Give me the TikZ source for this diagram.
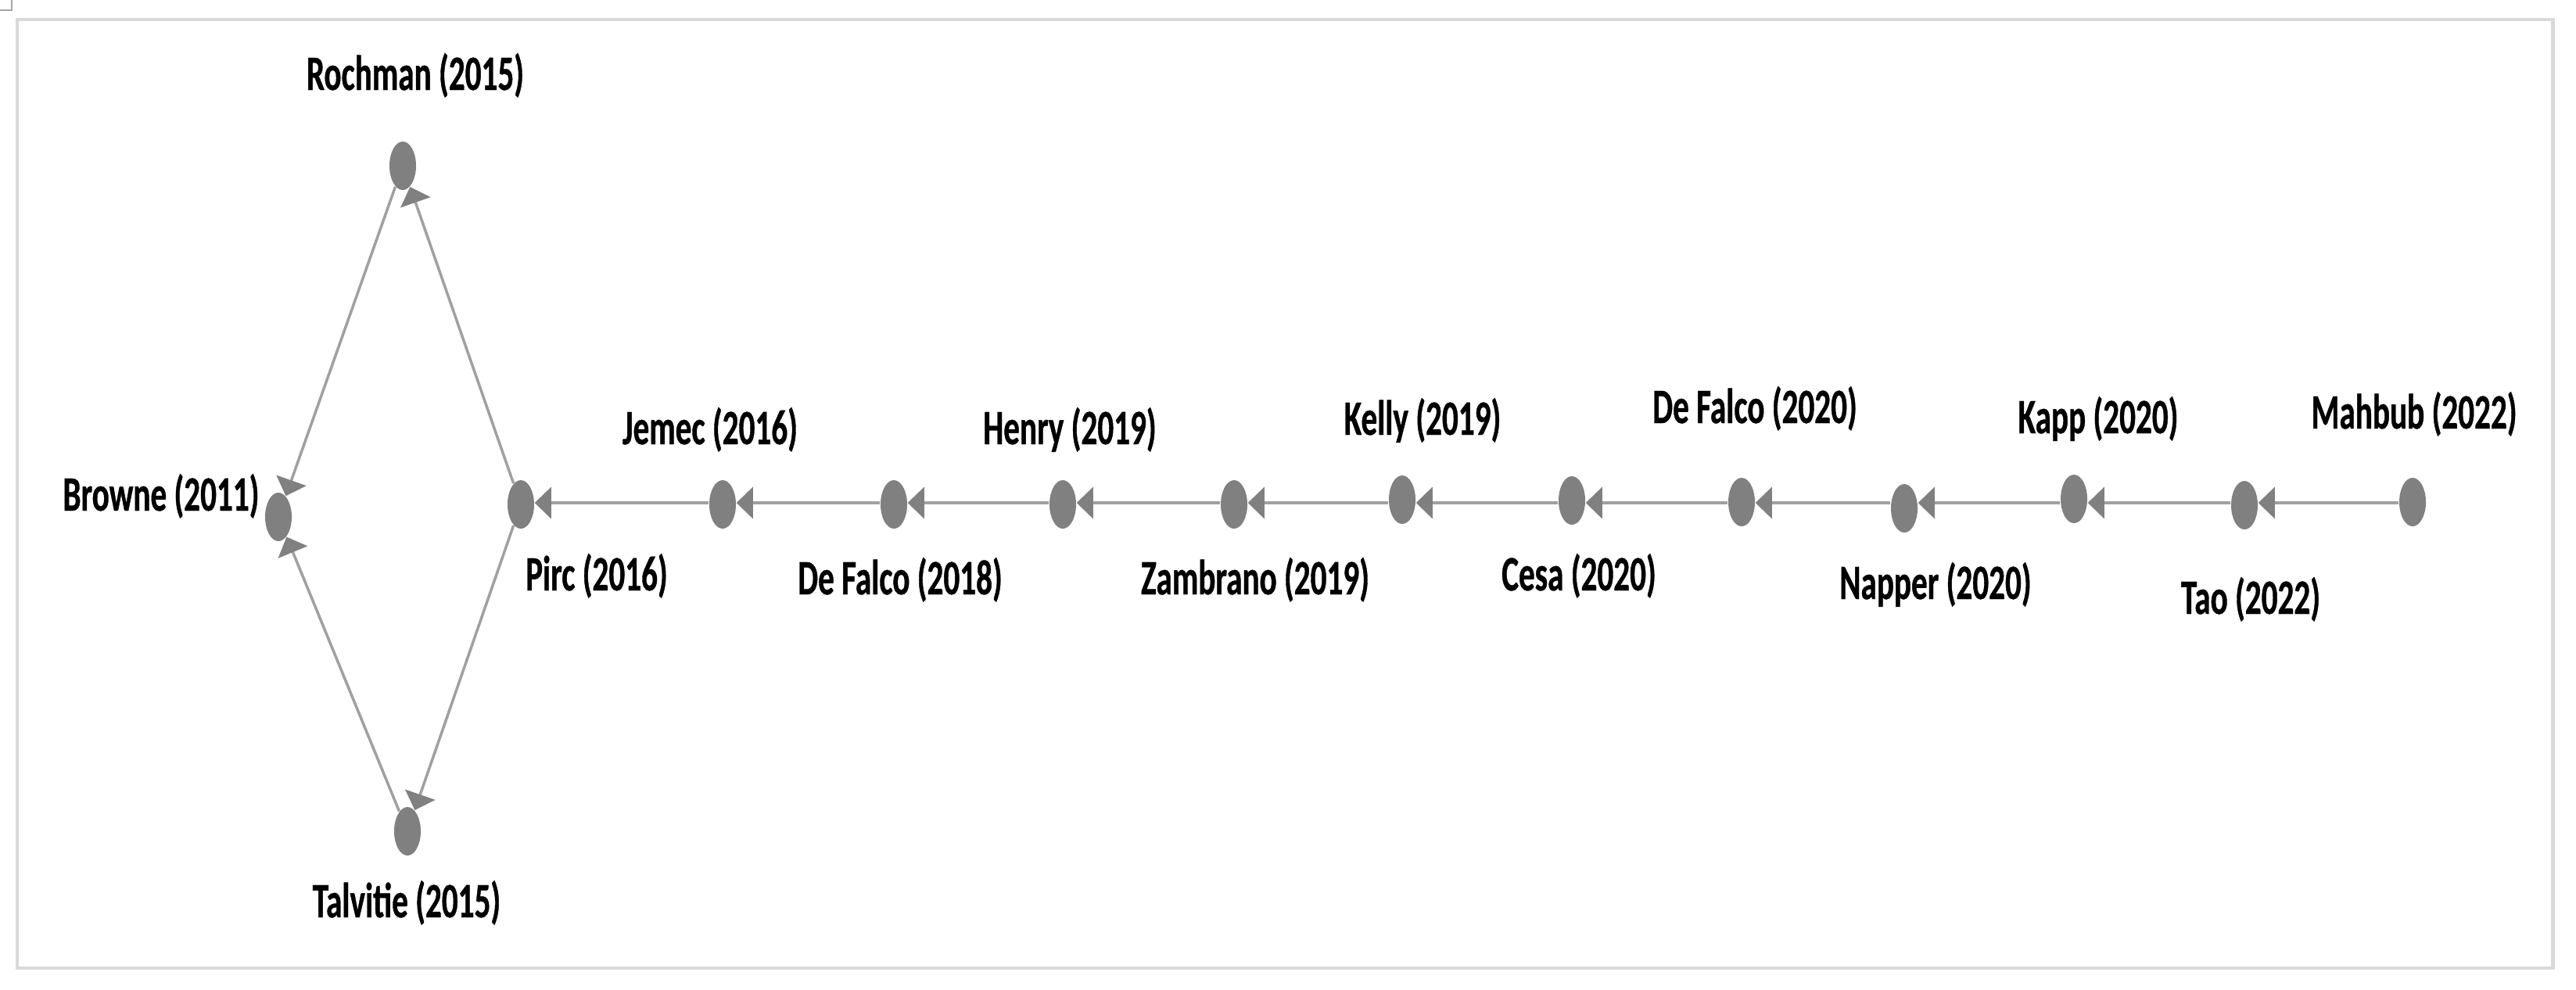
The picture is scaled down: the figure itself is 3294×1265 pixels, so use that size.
\documentclass[tikz,border=0pt]{standalone}
\usepackage{fontspec}
\newfontfamily\labfont[FakeStretch=0.65,FakeBold=0.6]{Carlito}
\usetikzlibrary{arrows.meta,shapes.geometric}
\definecolor{nodegray}{RGB}{128,128,128}
\definecolor{edgegray}{RGB}{160,160,160}
\definecolor{framegray}{RGB}{217,217,217}
\begin{document}
\begin{tikzpicture}[x=0.01cm,y=-0.01cm,
  pub/.style={ellipse, fill=nodegray, draw=none, inner sep=0pt,
    minimum width=0.34cm, minimum height=0.62cm},
  lab/.style={font=\labfont\bfseries\fontsize{18}{20}\selectfont,
    inner sep=0pt, anchor=base, text=black},
  cite/.style={draw=edgegray, line width=1pt,
    -{Triangle[length=6pt,width=11.4pt,color=nodegray]}}]
\useasboundingbox (0,0) rectangle (3294,1265);
% frame
\draw[framegray, line width=1.4pt] (22,25) rectangle (3264,1238);
\draw[gray!70, line width=0.5pt] (0,13) -- (15,13) -- (15,0);
% publication nodes
\node[pub] (rochman)  at (515,212)  {};
\node[pub] (browne)   at (356,661)  {};
\node[pub] (talvitie) at (521,1063) {};
\node[pub] (pirc)     at (666,645)  {};
\node[pub] (jemec)    at (924,645)  {};
\node[pub] (dfa)      at (1143,645) {};
\node[pub] (henry)    at (1359,645) {};
\node[pub] (zambrano) at (1578,645) {};
\node[pub] (kelly)    at (1793,639) {};
\node[pub] (cesa)     at (2010,640) {};
\node[pub] (dfb)      at (2227,642) {};
\node[pub] (napper)   at (2435,650) {};
\node[pub] (kapp)     at (2652,638) {};
\node[pub] (tao)      at (2870,646) {};
\node[pub] (mahbub)   at (3085,642) {};
\coordinate (axis) at (0,643);
% labels
\node[lab] (Lrochman)  at (531,115)  {Rochman (2015)};
\node[lab] (Lbrowne)   at (206,653)  {Browne (2011)};
\node[lab] (Ltalvitie) at (520,1173) {Talvitie (2015)};
\node[lab] (Lpirc)     at (763,755)  {Pirc (2016)};
\node[lab] (Ljemec)    at (908,568)  {Jemec (2016)};
\node[lab] (Ldfa)      at (1151,760) {De Falco (2018)};
\node[lab] (Lhenry)    at (1368,568) {Henry (2019)};
\node[lab] (Lzambrano) at (1605,760) {Zambrano (2019)};
\node[lab] (Lkelly)    at (1819,556) {Kelly (2019)};
\node[lab] (Lcesa)     at (2019,755) {Cesa (2020)};
\node[lab] (Ldfb)      at (2244,541) {De Falco (2020)};
\node[lab] (Lnapper)   at (2475,766) {Napper (2020)};
\node[lab] (Lkapp)     at (2683,554) {Kapp (2020)};
\node[lab] (Lmahbub)   at (3087,548) {Mahbub (2022)};
\node[lab] (Ltao)      at (2878,785) {Tao (2022)};
% citation edges along the main line
\foreach \s/\t in {mahbub/tao, tao/kapp, kapp/napper, napper/dfb, dfb/cesa,
    cesa/kelly, kelly/zambrano, zambrano/henry, henry/dfa, dfa/jemec, jemec/pirc}
  \draw[cite] (\s.west |- axis) -- (\t.east |- axis);
% diamond
\draw[cite] (pirc) -- (rochman);
\draw[cite] (pirc) -- (talvitie);
\draw[cite] (rochman) -- (browne);
\draw[cite] (talvitie) -- (browne);
\end{tikzpicture}
\end{document}
